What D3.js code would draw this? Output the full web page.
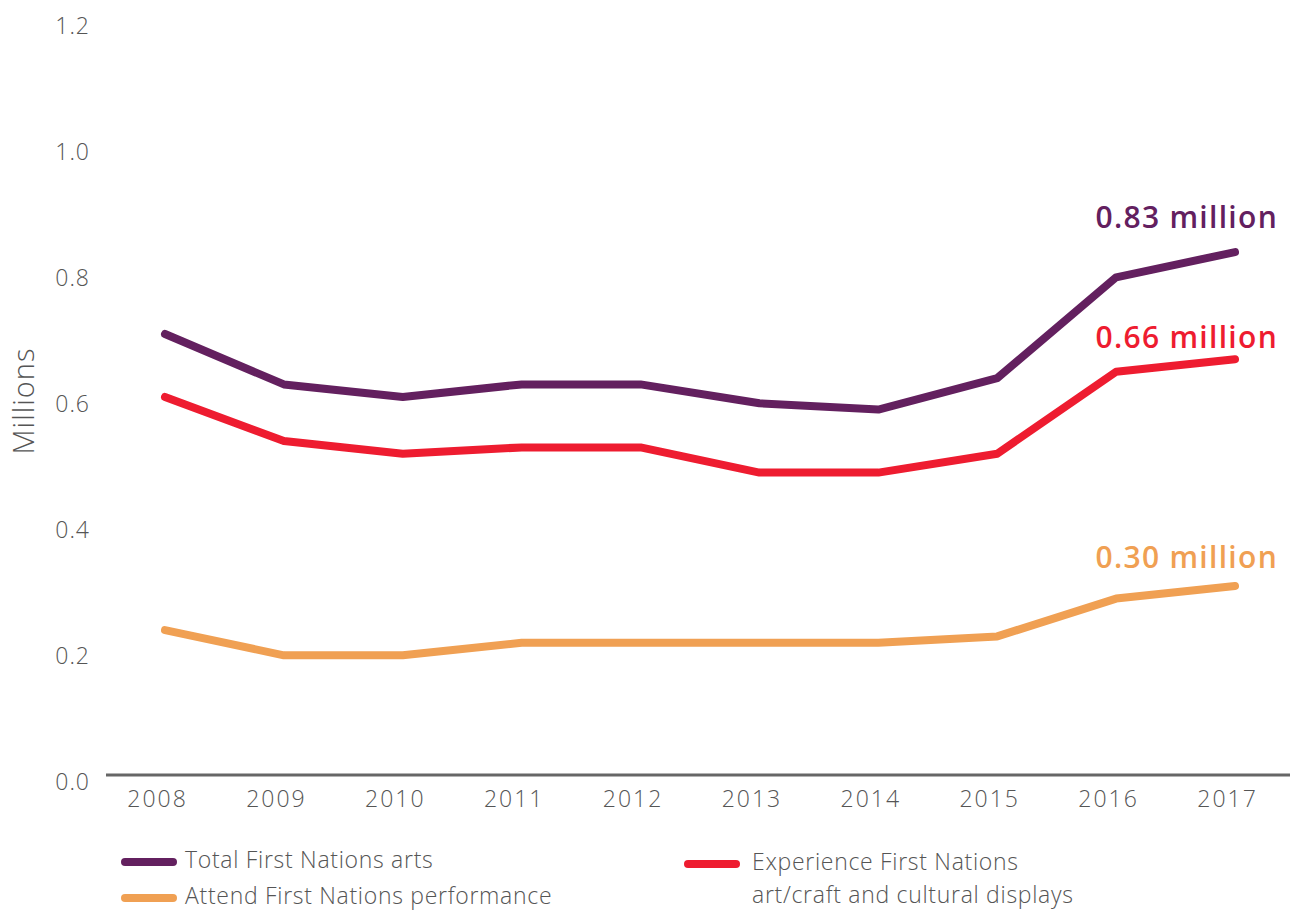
<!DOCTYPE html>
<html>
<head>
<meta charset="utf-8">
<script src="https://cdn.jsdelivr.net/npm/d3@7"></script>
<style>
  body { margin: 0; background: #fff; }
  text { font-family: "Open Sans", Lato, sans-serif; }
</style>
</head>
<body>
<div id="chart-area"></div>
<script>
// values (millions)
const years = ["2008", "2009", "2010", "2011", "2012", "2013", "2014", "2015", "2016", "2017"]
const totalArts = [0.70, 0.62, 0.60, 0.62, 0.62, 0.59, 0.58, 0.63, 0.79, 0.83]
const experienceArts = [0.60, 0.53, 0.51, 0.52, 0.52, 0.48, 0.48, 0.51, 0.64, 0.66]
const attendPerf = [0.23, 0.19, 0.19, 0.21, 0.21, 0.21, 0.21, 0.22, 0.28, 0.30]
const yTicks = [0, 0.2, 0.4, 0.6, 0.8, 1.0, 1.2]
const endLabels = ["0.83 million", "0.66 million", "0.30 million"]

const series = [
  { name: "Total First Nations arts", values: totalArts, color: "#63205f", label: endLabels[0] },
  { name: "Experience First Nations art/craft and cultural displays", values: experienceArts, color: "#ee1c30", label: endLabels[1] },
  { name: "Attend First Nations performance", values: attendPerf, color: "#f0a053", label: endLabels[2] }
]
// how far above the last point each end label sits
const labelLift = [24, 11, 18]

const svg = d3.select("#chart-area").append("svg")
  .attr("width", 1296)
  .attr("height", 913)

const x = d3.scalePoint().domain(years).range([165, 1235])
const y = d3.scaleLinear().domain([0, 1.2]).range([775, 19])

// y axis labels (no line), sitting a little below their value
const yAxis = svg.append("g")
  .attr("transform", "translate(90,0)")
  .call(d3.axisLeft(y).tickValues(yTicks).tickFormat(d3.format(".1f")).tickSize(0).tickPadding(0))
yAxis.select(".domain").remove()
yAxis.selectAll("text")
  .attr("dy", 14)
  .attr("font-size", 23)
  .attr("fill", "#555")
  .style("font-family", "'Open Sans', sans-serif")
  .style("font-weight", 300)
  .style("letter-spacing", "1px")

// x axis
const xAxis = svg.append("g")
  .attr("transform", "translate(0," + y(0) + ")")
  .call(d3.axisBottom(x).tickSize(0).tickPadding(16))
xAxis.select(".domain").remove()
xAxis.selectAll("text")
  .attr("dx", -8)
  .attr("font-size", 23)
  .attr("fill", "#555")
  .style("font-family", "'Open Sans', sans-serif")
  .style("font-weight", 300)
  .style("letter-spacing", "2px")

svg.append("line")
  .attr("x1", 106).attr("x2", 1290)
  .attr("y1", y(0)).attr("y2", y(0))
  .attr("stroke", "#666")
  .attr("stroke-width", 3)

svg.append("text")
  .attr("transform", "translate(34,401) rotate(-90)")
  .attr("text-anchor", "middle")
  .attr("font-size", 29)
  .attr("font-weight", 300)
  .attr("fill", "#555")
  .style("letter-spacing", "1px")
  .text("Millions")

const line = d3.line()
  .x((d, i) => x(years[i]))
  .y(d => y(d))

svg.selectAll(".series")
  .data(series)
  .enter().append("path")
  .attr("class", "series")
  .attr("d", d => line(d.values))
  .attr("fill", "none")
  .attr("stroke", d => d.color)
  .attr("stroke-width", 8)
  .attr("stroke-linecap", "round")
  .attr("stroke-linejoin", "round")

// end value labels
svg.selectAll(".end-label")
  .data(series)
  .enter().append("text")
  .attr("class", "end-label")
  .attr("x", 1278)
  .attr("y", (d, i) => y(d.values[d.values.length - 1]) - labelLift[i])
  .attr("text-anchor", "end")
  .attr("font-size", 30)
  .attr("font-weight", 600)
  .attr("fill", d => d.color)
  .style("letter-spacing", "1.3px")
  .text(d => d.label)

// legend
const legend = svg.append("g")
const legendItems = [
  { s: series[0], x: 125, y: 862, lines: ["Total First Nations arts"] },
  { s: series[2], x: 125, y: 898, lines: ["Attend First Nations performance"] },
  { s: series[1], x: 688, y: 864, lines: ["Experience First Nations", "art/craft and cultural displays"] }
]
legendItems.forEach(item => {
  legend.append("line")
    .attr("x1", item.x).attr("x2", item.x + 48)
    .attr("y1", item.y).attr("y2", item.y)
    .attr("stroke", item.s.color)
    .attr("stroke-width", 8)
    .attr("stroke-linecap", "round")
  const t = legend.append("text")
    .attr("y", item.y - 2)
    .attr("font-size", 23)
    .attr("font-weight", 300)
    .attr("fill", "#555")
    .style("letter-spacing", "0.7px")
  item.lines.forEach((l, i) => {
    t.append("tspan")
      .attr("x", item.x + 60 + (item.x > 500 ? 4 : 0))
      .attr("dy", i === 0 ? "0.35em" : "1.45em")
      .text(l)
  })
})
</script>
</body>
</html>
